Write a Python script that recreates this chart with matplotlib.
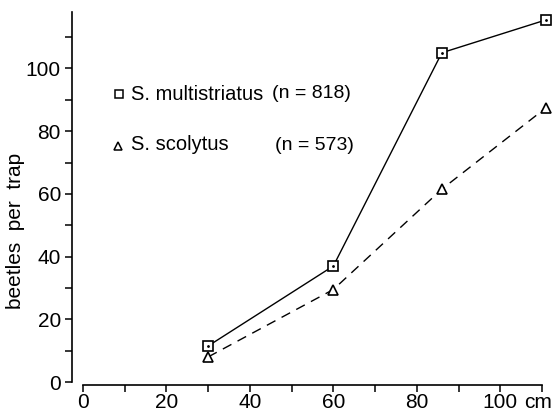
import matplotlib
matplotlib.use("Agg")
import matplotlib.pyplot as plt
import matplotlib.transforms as mtransforms
from matplotlib.ticker import MultipleLocator

# trap height (cm) against mean catch
height_cm = [30, 60, 86, 111]
multistriatus = [11.5, 37, 105, 115.5]
scolytus = [8, 29.5, 61.5, 87.5]

xtick_pos = [0, 20, 40, 60, 80, 100, 110]
xtick_lab = ['0', '20', '40', '60', '80', '100', '']

plt.rcParams['font.family'] = 'Liberation Sans'
plt.rcParams['font.size'] = 14

W, H = 552, 412
fig = plt.figure(figsize=(W / 100, H / 100), dpi=100)
ax = fig.add_axes([72 / W, 30 / H, 470 / W, 370 / H])

x0 = -11 / 4.17  # left spine sits a little left of x = 0
ax.set_xlim(x0, 110)
ax.set_ylim(0, 118)

ax.plot(height_cm, multistriatus, color='k', lw=1.0, ls='-',
        marker='s', ms=7, mfc='white', mec='k', mew=1.2, clip_on=False, zorder=3)
ax.plot(height_cm, multistriatus, ls='none', marker='.', ms=2, color='k',
        clip_on=False, zorder=4)
ax.plot(height_cm, scolytus, color='k', lw=1.0, ls=(0, (7, 5)),
        marker='^', ms=7, mfc='white', mec='k', mew=1.2, clip_on=False, zorder=3)

for s in ['top', 'right']:
    ax.spines[s].set_visible(False)
ax.spines['left'].set_position(('data', x0))
ax.spines['left'].set_bounds(0, 118)
ax.spines['bottom'].set_bounds(0, 110)
ax.spines['bottom'].set_position(('outward', 2))
ax.spines['left'].set_linewidth(1.2)
ax.spines['bottom'].set_linewidth(1.2)

ax.set_xticks(xtick_pos)
ax.set_xticklabels(xtick_lab)
ax.xaxis.set_minor_locator(MultipleLocator(10))
ax.yaxis.set_minor_locator(MultipleLocator(10))
ax.set_yticks([0, 20, 40, 60, 80, 100])
ax.tick_params(which='both', direction='out', length=5, width=1.1, labelsize=15)
ax.tick_params(axis='x', pad=1)
ax.tick_params(axis='y', pad=3)

# unit label at the end of the x axis
cm_tr = mtransforms.blended_transform_factory(ax.transData, ax.transAxes)
ax.text(109, -0.03, 'cm', transform=cm_tr, ha='center', va='top', fontsize=15)

ax.set_ylabel('beetles  per  trap', fontsize=15)
ax.yaxis.set_label_coords(-0.1, 0.408)

# key in the upper left
tr = ax.transAxes
def ax_pt(px, py):
    return ((px - 72) / 470, (H - py - 30) / 370)

ax.plot(*ax_pt(119, 94), transform=tr, marker='s', ms=6, mfc='white', mec='k', mew=1.1)
ax.plot(*ax_pt(118, 146), transform=tr, marker='^', ms=6, mfc='white', mec='k', mew=1.1)
ax.text(*ax_pt(131, 94), 'S. multistriatus', transform=tr, va='center', fontsize=14.5)
ax.text(*ax_pt(272, 94), '(n = 818)', transform=tr, va='center', fontsize=14)
ax.text(*ax_pt(131, 145), 'S. scolytus', transform=tr, va='center', fontsize=14.5)
ax.text(*ax_pt(275, 145), '(n = 573)', transform=tr, va='center', fontsize=14)

fig.savefig('out.png', dpi=100)
